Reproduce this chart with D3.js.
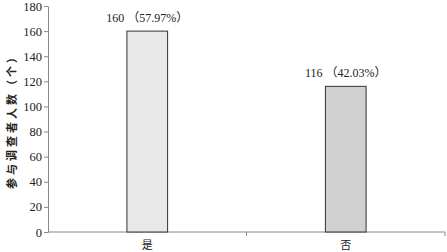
<!DOCTYPE html>
<html>
<head>
<meta charset="utf-8">
<script src="https://cdn.jsdelivr.net/npm/d3@7"></script>
<style>
  body { margin: 0; background: #fff; }
  text { font-family: "Liberation Serif", "Noto Sans CJK SC", serif; }
</style>
</head>
<body>
<svg id="chart"></svg>
<script>
var categories = ["是", "否"];
var values = [160, 116];
var labels = ["160 （57.97%）", "116 （42.03%）"];
var yTicks = [0, 20, 40, 60, 80, 100, 120, 140, 160, 180];
var fills = ["#e8e8e8", "#d0d0d0"];

var width = 447, height = 252;
var margin = { top: 6, right: 2, bottom: 20, left: 48 };

var svg = d3.select("#chart")
            .attr("width", width)
            .attr("height", height);

var x = d3.scaleBand()
          .domain(categories)
          .range([margin.left, width - margin.right])
          .paddingInner(0).paddingOuter(0);

var y = d3.scaleLinear()
          .domain([0, 180])
          .range([height - margin.bottom, margin.top]);

// y axis
var yAxis = svg.append("g")
    .attr("transform", "translate(" + margin.left + ",0)")
    .call(d3.axisLeft(y).tickValues(yTicks).tickSize(4).tickSizeOuter(0));
yAxis.select(".domain").attr("stroke", "#888");
yAxis.selectAll(".tick line").attr("stroke", "#888");
yAxis.selectAll(".tick text").attr("font-size", 12.5).attr("fill", "#222").attr("x", -6);

// x axis, ticks on the band edges
var xAxis = svg.append("g")
    .attr("transform", "translate(0," + y(0) + ")");
xAxis.append("line")
    .attr("x1", margin.left).attr("x2", width - margin.right)
    .attr("stroke", "#888");
xAxis.selectAll(".edge")
    .data(categories)
    .enter().append("line")
    .attr("x1", function (d) { return x(d) + x.bandwidth(); })
    .attr("x2", function (d) { return x(d) + x.bandwidth(); })
    .attr("y1", 0).attr("y2", 4)
    .attr("stroke", "#888");
xAxis.selectAll(".cat")
    .data(categories)
    .enter().append("text")
    .attr("x", function (d) { return x(d) + x.bandwidth() / 2; })
    .attr("y", 17)
    .attr("text-anchor", "middle")
    .attr("font-size", 11)
    .attr("fill", "#222")
    .text(function (d) { return d; });

// bars
var barW = x.bandwidth() * 0.205;
svg.selectAll(".bar")
    .data(values)
    .enter().append("rect")
    .attr("x", function (d, i) { return x(categories[i]) + x.bandwidth() / 2 - barW / 2; })
    .attr("y", function (d) { return y(d); })
    .attr("width", barW)
    .attr("height", function (d) { return y(0) - y(d); })
    .attr("fill", function (d, i) { return fills[i]; })
    .attr("stroke", "#333")
    .attr("stroke-width", 1);

// value labels
svg.selectAll(".lbl")
    .data(values)
    .enter().append("text")
    .attr("x", function (d, i) { return x(categories[i]) + x.bandwidth() / 2; })
    .attr("y", function (d) { return y(d) - 9; })
    .attr("text-anchor", "middle")
    .attr("font-size", 12)
    .attr("fill", "#222")
    .text(function (d, i) { return labels[i]; });

// y title
svg.append("text")
    .attr("transform", "translate(16," + (y(90)) + ") rotate(-90)")
    .attr("text-anchor", "middle")
    .attr("font-size", 11)
    .attr("font-weight", "bold")
    .attr("letter-spacing", 3)
    .attr("fill", "#222")
    .text("参与调查者人数（个）");
</script>
</body>
</html>
